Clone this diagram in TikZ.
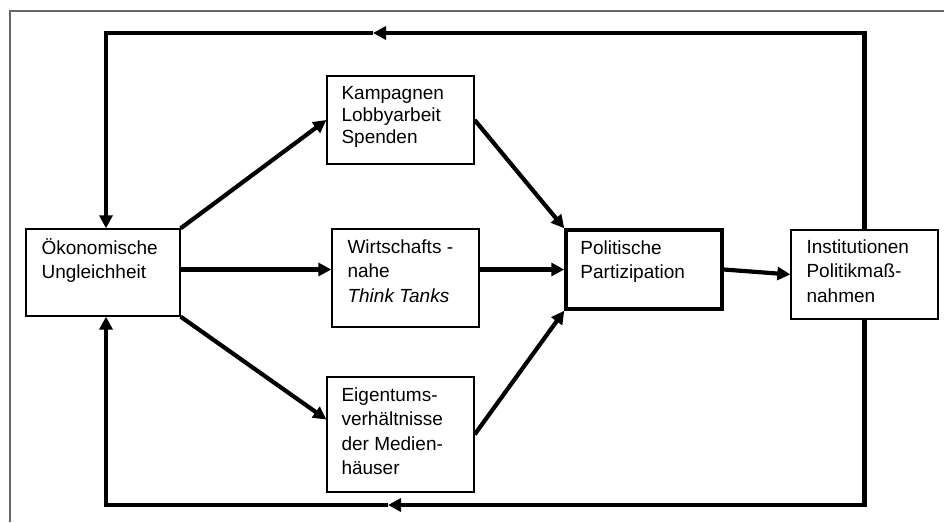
\documentclass[tikz,border=0pt]{standalone}
\usepackage{fontspec}
\setmainfont{Liberation Sans}
\usetikzlibrary{arrows.meta}

\tikzset{
  box/.style={draw, line width=1.3pt, inner sep=0pt},
  txt/.style={anchor=north west, inner sep=0pt, align=left,
    font=\fontsize{19}{24.5}\selectfont, execute at begin node=\strut},
  flow/.style={line width=4.2pt, -{Triangle[length=13pt,width=13pt]}},
  frame/.style={line width=1.2pt, draw=black!60},
}

\begin{document}
\begin{tikzpicture}[x=1pt,y=-1pt]
    \useasboundingbox (0,0) rectangle (944,522);
    \draw [frame] (10,522) |- (944,11);

    % boxes
    \node [box, minimum width=154pt, minimum height=87pt] (oek) at (103,272.5) {};
    \node [box, minimum width=147pt, minimum height=88pt] (kamp) at (400.5,120) {};
    \node [box, minimum width=147pt, minimum height=98pt] (wirt) at (405.5,278) {};
    \node [box, minimum width=147pt, minimum height=115pt] (eig) at (400.5,434.5) {};
    \node [box, line width=3.5pt, minimum width=156pt, minimum height=79pt] (pol) at (644,269.5) {};
    \node [box, minimum width=147pt, minimum height=89pt] (inst) at (864.5,274.5) {};

    % texts
    \node [txt] (oek-t) at ([shift={(16,10)}]oek.north west) {Ökonomische\\Ungleichheit};
    \node [txt, font=\fontsize{19}{22}\selectfont] (kamp-t) at ([shift={(15,11)}]kamp.north west) {Kampagnen\\Lobbyarbeit\\Spenden};
    \node [txt] (wirt-t) at ([shift={(16,11)}]wirt.north west) {Wirtschafts -\\nahe\\\textit{Think Tanks}};
    \node [txt] (eig-t) at ([shift={(15,11)}]eig.north west) {Eigentums-\\verhältnisse\\der Medien-\\häuser};
    \node [txt] (pol-t) at ([shift={(16,12)}]pol.north west) {Politische\\Partizipation};
    \node [txt] (inst-t) at ([shift={(16,10)}]inst.north west) {Institutionen\\Politikmaß-\\nahmen};

    % connectors
    \draw [flow] (oek.north east) -- (kamp.west);
    \draw [flow] (oek.east |- pol.west) -- (wirt.west |- pol.west);
    \draw [flow] (oek.south east) -- ([yshift=15pt]eig.west);
    \draw [flow] (kamp.east) -- (pol.north west);
    \draw [flow] (wirt.east |- pol.west) -- (pol.west);
    \draw [flow] (eig.east) -- (pol.south west);
    \draw [flow] (pol.east) -- (inst.west);

    % feedback loops
    \coordinate (top-mid) at (373,33);
    \coordinate (bot-mid) at (388,505);
    \draw [flow] (inst.north) |- (top-mid);
    \draw [flow] (top-mid) -| ([xshift=3pt]oek.north);
    \draw [flow] (inst.south) |- (bot-mid);
    \draw [flow] (bot-mid) -| ([xshift=3pt]oek.south);
  \end{tikzpicture}
\end{document}
